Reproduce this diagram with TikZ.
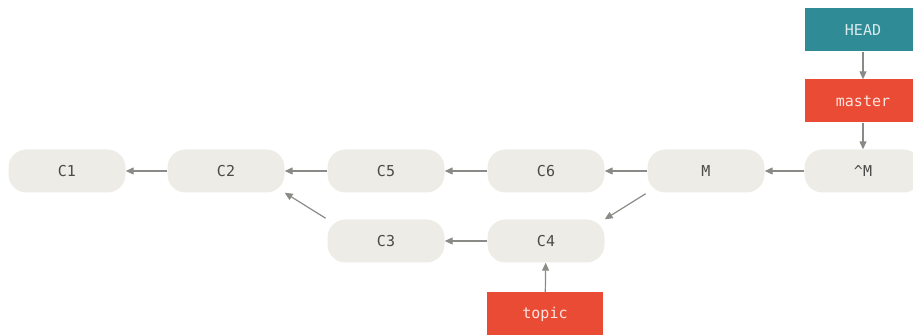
\documentclass[tikz,border=0pt]{standalone}
\usepackage{fontspec}
\setmonofont{DejaVu Sans Mono}
\usetikzlibrary{positioning,arrows.meta,calc}
\definecolor{gcommit}{HTML}{EDECE6}
\definecolor{gtext}{HTML}{4A4A48}
\definecolor{garrow}{HTML}{8A8A86}
\definecolor{gred}{HTML}{EA4B35}
\definecolor{gteal}{HTML}{2F8C96}
\tikzset{
  commit/.style ={fill=gcommit, rounded corners=18pt, minimum width=117pt,
                  minimum height=43pt, inner sep=0pt, text=gtext,
                  font=\ttfamily\fontsize{15}{17}\selectfont},
  branch/.style ={fill=gred, minimum width=116pt, minimum height=43pt,
                  inner sep=0pt, text=white!85!gred,
                  font=\ttfamily\fontsize{15}{17}\selectfont},
  headref/.style={branch, fill=gteal, text=white!82!gteal},
  parent/.style ={-{Triangle[length=8pt,width=7pt]}, draw=garrow, line width=1.2pt},
}
\begin{document}
\begin{tikzpicture}[x=1pt,y=1pt]
  \useasboundingbox (0,0) rectangle (913,-336);
  % commits
  \foreach \p/\n/\t in {(67,-171)/c1/C1,(226,-171)/c2/C2,(386,-171)/c5/C5,
                       (546,-171)/c6/C6,(706,-171)/m/M,(863,-171)/mm/\^{}M,
                       (386,-241)/c3/C3,(546,-241)/c4/C4}{
      \node[commit] (\n) at \p {\t};}
  % refs
  \node[headref] (head) at (863,-30) {HEAD};
  \node[branch] (master) at (863,-101) {master};
  \node[branch] (topic) at (545,-314) {topic};
  % history
  \foreach \a/\b in {c2/c1,c5/c2,c6/c5,m/c6,mm/m,c4/c3}{
      \draw[parent] (\a) -- (\b);}
  \draw[parent, shorten <=2pt] (c3.north west) -- (c2.south east);
  \draw[parent, shorten <=2pt] (m.south west) -- (c4.north east);
  \draw[parent] (head) -- (master);
  \draw[parent] (master) -- (mm);
  \draw[parent] (topic) -- (c4);
\end{tikzpicture}
\end{document}
